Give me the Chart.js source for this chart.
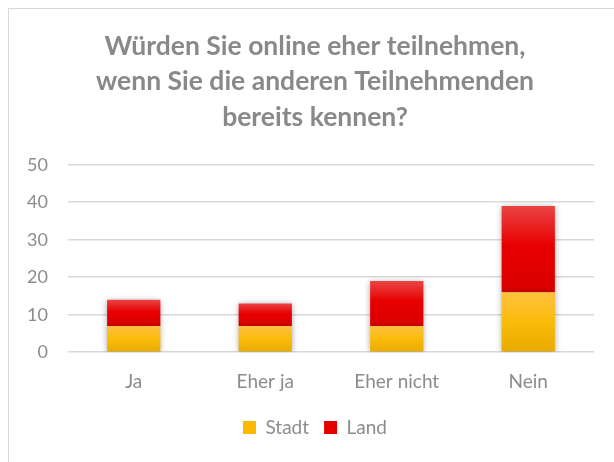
<!DOCTYPE html>
<html>
<head>
<meta charset="utf-8">
<script src="https://cdn.jsdelivr.net/npm/chart.js@4/dist/chart.umd.min.js"></script>
<style>
  html, body { margin: 0; padding: 0; background: #fff; }
  #wrap { position: relative; width: 614px; height: 462px; overflow: hidden; }
  #frame { position: absolute; left: 8px; top: 8px; width: 640px; height: 480px; border: 1px solid #d9d9d9; box-sizing: border-box; }
  canvas { position: absolute; left: 0; top: 0; }
</style>
</head>
<body>
<div id="wrap">
  <div id="frame"></div>
  <canvas id="c" width="614" height="462"></canvas>
</div>
<script>
const categories = ['Ja', 'Eher ja', 'Eher nicht', 'Nein'];
const stadtValues = [7, 7, 7, 16];
const landValues = [7, 6, 12, 23];
const yTicks = [0, 10, 20, 30, 40, 50];
const titleLines = ['Würden Sie online eher teilnehmen,', 'wenn Sie die anderen Teilnehmenden', 'bereits kennen?'];

function barGradient(ctx, stops, fallback) {
  const chart = ctx.chart;
  if (!chart.chartArea || ctx.type !== 'data') return fallback;
  const y = chart.scales.y;
  const ds = chart.data.datasets;
  let base = 0;
  for (let i = 0; i < ctx.datasetIndex; i++) base += ds[i].data[ctx.dataIndex];
  const top = base + ds[ctx.datasetIndex].data[ctx.dataIndex];
  const y0 = y.getPixelForValue(top);
  const y1 = y.getPixelForValue(base);
  const g = chart.ctx.createLinearGradient(0, y0, 0, y1);
  stops.forEach(s => g.addColorStop(s[0], s[1]));
  return g;
}

const shadowPlugin = {
  id: 'shadow',
  beforeDatasetDraw(chart) {
    const c = chart.ctx;
    c.save();
    c.shadowColor = 'rgba(0,0,0,0.35)';
    c.shadowBlur = 6;
    c.shadowOffsetY = 1;
  },
  afterDatasetDraw(chart) { chart.ctx.restore(); }
};

new Chart(document.getElementById('c'), {
  type: 'bar',
  data: {
    labels: categories,
    datasets: [
      {
        label: 'Stadt',
        data: stadtValues,
        backgroundColor: ctx => barGradient(ctx, [[0, '#fdc23f'], [0.5, '#fbbb0a'], [1, '#e8aa00']], '#fbb900'),
        categoryPercentage: 1,
        barPercentage: 0.405
      },
      {
        label: 'Land',
        data: landValues,
        backgroundColor: ctx => barGradient(ctx, [[0, '#e94545'], [0.45, '#e80000'], [1, '#d90000']], '#e50000'),
        categoryPercentage: 1,
        barPercentage: 0.405
      }
    ]
  },
  options: {
    responsive: false,
    animation: false,
    layout: { padding: { left: 36, right: 20, top: 29, bottom: 15 } },
    plugins: {
      title: {
        display: true,
        text: titleLines,
        color: '#898989',
        font: { family: 'Lato', size: 26.5, weight: 'bold', lineHeight: 1.33 },
        padding: { top: 0, bottom: 30 }
      },
      legend: {
        position: 'bottom',
        labels: {
          boxWidth: 13,
          boxHeight: 13,
          color: '#8c8c8c',
          font: { family: 'Lato', size: 19 },
          padding: 15,
          generateLabels: chart => [
            { text: 'Stadt', fillStyle: '#fbb900', strokeStyle: '#fbb900', lineWidth: 0, datasetIndex: 0, fontColor: '#8c8c8c' },
            { text: 'Land', fillStyle: '#e50000', strokeStyle: '#e50000', lineWidth: 0, datasetIndex: 1, fontColor: '#8c8c8c' }
          ]
        }
      },
      tooltip: { enabled: false }
    },
    scales: {
      x: {
        stacked: true,
        grid: { display: false },
        border: { display: false },
        ticks: { color: '#8c8c8c', font: { family: 'Lato', size: 19 }, padding: 10 }
      },
      y: {
        stacked: true,
        min: 0,
        max: 50,
        afterBuildTicks: axis => { axis.ticks = yTicks.map(v => ({ value: v })); },
        afterFit: axis => { axis.width = 32; axis._computeLabelArea = () => undefined; },
        grid: { color: '#d9d9d9', lineWidth: 1.5, drawTicks: false },
        border: { display: false },
        ticks: { color: '#8c8c8c', font: { family: 'Lato', size: 18 }, padding: 20 }
      }
    }
  },
  plugins: [shadowPlugin]
});
</script>
</body>
</html>
